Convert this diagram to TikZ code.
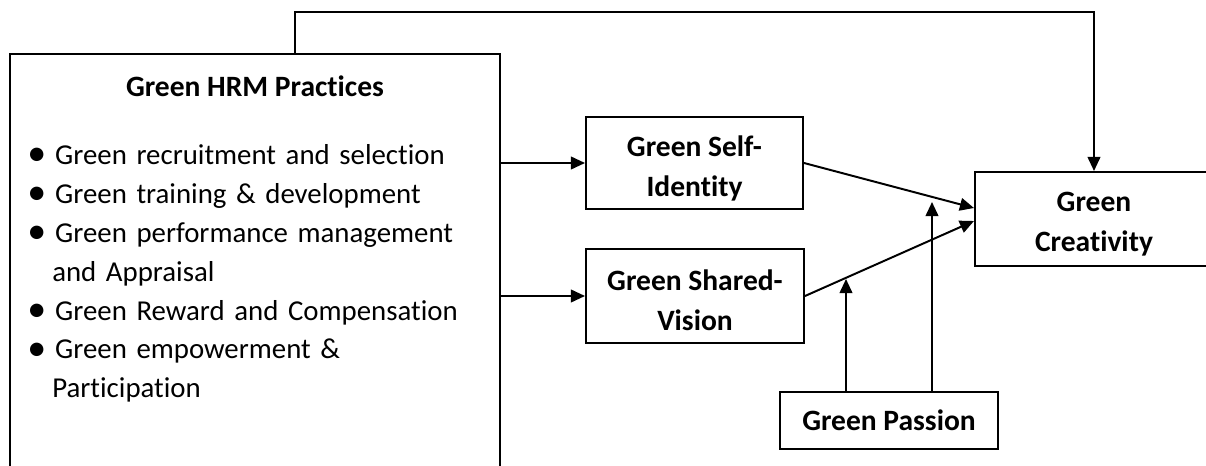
\documentclass[tikz,border=0pt]{standalone}
\usepackage{fontspec}
\setmainfont{Carlito}[Ligatures=NoCommon]
\usetikzlibrary{arrows.meta,positioning}

\begin{document}
\begin{tikzpicture}[x=0.025cm,y=-0.025cm,
	box/.style={draw,line width=1.4pt,inner sep=0pt},
	boxtext/.style={align=center,inner sep=0pt,font=\bfseries\fontsize{21}{28.4}\selectfont},
	link/.style={line width=1.4pt,-{Triangle[length=10pt,width=9pt]}}]
	\useasboundingbox (0,0) rectangle (1206,466);
	\clip (0,0) rectangle (1206,466);
	% the practices box runs off the bottom edge
	\node[box,minimum width=12.25cm,minimum height=10.65cm] (hrm) at (255,267) {};
	\node[boxtext] (hrmtitle) at (255,86) {Green HRM Practices};
	\node[anchor=north west,inner sep=0pt,text width=11.5cm,font=\fontsize{20.5}{27.7}\selectfont] (hrmlist) at (28,125) {%
		\begin{list}{\raisebox{-1.2pt}{\fontsize{27}{0}\selectfont\textbullet}}{\setlength{\leftmargin}{0.6cm}\setlength{\labelwidth}{0.4cm}\setlength{\labelsep}{0.22cm}%
			\setlength{\itemsep}{0pt}\setlength{\topsep}{0pt}\setlength{\parsep}{0pt}\setlength{\partopsep}{0pt}\raggedright}
		\item Green recruitment and selection
		\item Green training \& development
		\item Green performance management\newline and Appraisal
		\item Green Reward and Compensation
		\item Green empowerment \&\newline Participation
		\end{list}};
	\node[box,minimum width=5.425cm,minimum height=2.3cm] (self) at (694.5,163) {};
	\node[boxtext] (selftext) at (694.5,168) {Green Self-\\Identity};
	\node[box,minimum width=5.45cm,minimum height=2.35cm] (shared) at (695,296) {};
	\node[boxtext] (sharedtext) at (695,300) {Green Shared-\\Vision};
	\node[box,minimum width=5.95cm,minimum height=2.35cm] (creat) at (1094,219) {};
	\node[boxtext] (creattext) at (1094,224) {Green\\Creativity};
	\node[box,boxtext,draw,minimum width=5.45cm,minimum height=1.425cm] (passion) at (889,420.5) {Green Passion};
	% links
	\coordinate (top) at (295,54);
	\coordinate (mod1) at (932,202);
	\coordinate (mod2) at (846,279);
	\draw[link] (top) -- ++(0,-42) -| (creat.north);
	\draw[link] (hrm.east |- self.west) -- (self.west);
	\draw[link] (hrm.east |- shared.west) -- (shared.west);
	\draw[link] (self.east) -- ([yshift=0.275cm]creat.west);
	\draw[link] (shared.east) -- ([yshift=-0.05cm]creat.west);
	\draw[link] (passion.north -| mod1) -- (mod1);
	\draw[link] (passion.north -| mod2) -- (mod2);
\end{tikzpicture}
\end{document}
